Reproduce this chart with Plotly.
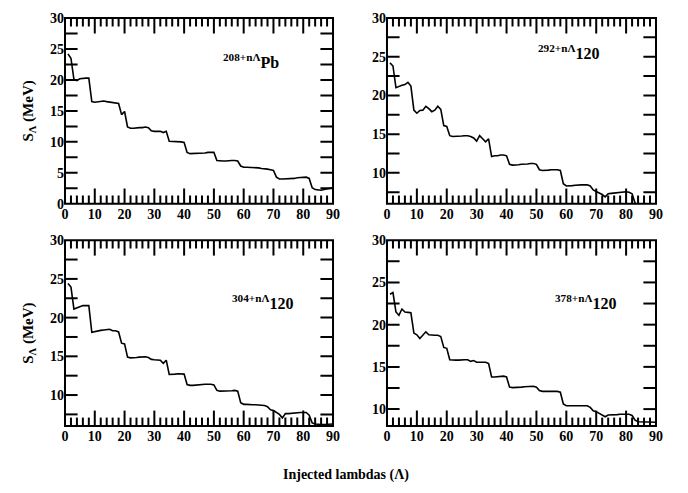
import plotly.graph_objects as go

n_lambda = list(range(1, 91))

s_pb208 = [24.2, 23.5, 20.1, 19.9, 20.2, 20.3, 20.3, 20.3, 16.5, 16.4,
           16.5, 16.5, 16.6, 16.5, 16.4, 16.3, 16.3, 16.2, 14.4, 14.9,
           12.4, 12.2, 12.2, 12.3, 12.3, 12.3, 12.4, 12.3, 11.8, 11.7,
           11.7, 11.7, 11.5, 11.7, 10.1, 10.1, 10.1, 10.0, 10.0, 9.9,
           8.3, 8.1, 8.1, 8.1, 8.2, 8.2, 8.2, 8.3, 8.3, 8.3,
           7.0, 6.9, 6.9, 6.9, 7.0, 7.0, 7.0, 6.9, 6.1, 5.9,
           5.9, 5.9, 5.9, 5.9, 5.8, 5.7, 5.7, 5.6, 5.5, 5.4,
           4.3, 4.0, 4.0, 4.0, 4.0, 4.1, 4.1, 4.2, 4.2, 4.3,
           4.3, 4.1, 2.6, 2.3, 2.2, 2.2, 2.3, 2.4, 2.5, 2.6]

s_120_292 = [24.2, 23.8, 21.0, 21.2, 21.3, 21.4, 21.7, 21.2, 18.1, 17.7,
             18.05, 18.1, 18.6, 18.3, 17.9, 18.1, 18.6, 18.2, 16.1, 16.0,
             14.8, 14.7, 14.7, 14.75, 14.75, 14.8, 14.8, 14.7, 14.5, 14.1,
             14.8, 14.4, 14.0, 14.4, 12.1, 12.2, 12.2, 12.3, 12.3, 12.2,
             11.1, 11.0, 11.0, 11.05, 11.1, 11.1, 11.15, 11.2, 11.2, 11.1,
             10.4, 10.3, 10.3, 10.35, 10.4, 10.4, 10.4, 10.3, 8.6, 8.3,
             8.3, 8.35, 8.4, 8.45, 8.45, 8.45, 8.45, 8.3, 7.8, 7.6,
             7.45, 7.2, 6.9, 7.3, 7.35, 7.4, 7.45, 7.5, 7.5, 7.55,
             7.5, 7.3, 6.1, 5.7, 5.6, 5.6, 5.6, 5.65, 5.7, 5.75]

s_120_304 = [24.4, 23.95, 21.1, 21.25, 21.5, 21.55, 21.55, 21.55, 18.1, 18.2,
             18.3, 18.35, 18.4, 18.45, 18.5, 18.3, 18.3, 18.15, 16.7, 16.6,
             14.9, 14.8, 14.8, 14.85, 14.9, 14.9, 14.95, 14.85, 14.6, 14.55,
             14.55, 14.5, 14.1, 14.5, 12.65, 12.65, 12.7, 12.75, 12.75, 12.7,
             11.35, 11.25, 11.25, 11.3, 11.35, 11.35, 11.4, 11.4, 11.4, 11.3,
             10.6, 10.5, 10.5, 10.5, 10.55, 10.55, 10.6, 10.5, 9.0, 8.8,
             8.8, 8.75, 8.75, 8.75, 8.7, 8.7, 8.65, 8.5, 8.1, 8.0,
             7.7, 7.5, 7.05, 7.6, 7.6, 7.65, 7.7, 7.7, 7.75, 7.75,
             7.75, 7.4, 6.4, 6.25, 6.2, 6.2, 6.2, 6.2, 6.2, 6.25]

s_120_378 = [23.6, 23.8, 21.5, 21.1, 21.85, 21.5, 21.45, 21.4, 19.0, 18.8,
             18.35, 18.7, 19.15, 18.8, 18.75, 18.75, 18.75, 18.6, 17.3, 17.2,
             15.85, 15.8, 15.8, 15.8, 15.85, 15.85, 15.85, 15.65, 15.75, 15.55,
             15.55, 15.55, 15.55, 15.4, 13.8, 13.8, 13.85, 13.9, 13.9, 13.8,
             12.6, 12.55, 12.55, 12.6, 12.6, 12.65, 12.65, 12.7, 12.7, 12.6,
             12.2, 12.1, 12.1, 12.1, 12.1, 12.1, 12.1, 12.0, 10.6, 10.4,
             10.4, 10.4, 10.4, 10.4, 10.4, 10.4, 10.4, 10.2, 9.8, 9.7,
             9.5, 9.3, 9.1, 9.3, 9.3, 9.35, 9.35, 9.4, 9.4, 9.4,
             9.4, 9.25, 8.7, 8.5, 8.5, 8.45, 8.45, 8.45, 8.45, 8.45]

labels = ["<sup>208+nΛ</sup>Pb", "<sup>292+nΛ</sup>120",
          "<sup>304+nΛ</sup>120", "<sup>378+nΛ</sup>120"]
series = [s_pb208, s_120_292, s_120_304, s_120_378]
y_ranges = [[0, 30], [6, 30], [6, 30], [8, 30]]

x_major_ticks = [0, 10, 20, 30, 40, 50, 60, 70, 80, 90]
x_minor_ticks = [v for v in range(2, 90, 2) if v % 10 != 0]
y_all_ticks = [0, 2.5, 5, 7.5, 10, 12.5, 15, 17.5, 20, 22.5, 25, 27.5, 30]

FONT = "Liberation Serif"
W, H = 688, 493
M = dict(l=65, r=32, t=11, b=67)
x_dom = [[0, 0.4535], [0.5448, 1.0], [0, 0.4535], [0.5448, 1.0]]
y_dom = [[0.5446, 1.0], [0.5446, 1.0], [0, 0.4554], [0, 0.4554]]
label_pos = [(52.5, 23.0), (50.0, 25.6), (55.5, 22.0), (55.5, 22.7)]
X_MAJOR_LEN, X_MINOR_LEN, Y_LEN = 11, 6, 9   # tick lengths in pixels

fig = go.Figure()
layout = dict(
    width=W, height=H, margin=M,
    paper_bgcolor="white", plot_bgcolor="white",
    showlegend=False,
    font=dict(family=FONT, color="black"),
    annotations=[], shapes=[],
)

TICK_MARK = dict(color="black", line=dict(color="black", width=2))

for i in range(4):
    sfx = "" if i == 0 else str(i + 1)
    xr, yr = "x" + sfx, "y" + sfx
    x0r, x1r = 0, 90
    y0r, y1r = y_ranges[i]
    y_in = [v for v in y_all_ticks if y0r < v < y1r]

    # ticks as line-symbol markers centred on the frame; the outer half is
    # clipped by the plot area, so only the inside half shows
    for vals, ln in [(x_major_ticks, X_MAJOR_LEN), (x_minor_ticks, X_MINOR_LEN)]:
        fig.add_trace(go.Scatter(
            x=vals + vals, y=[y0r] * len(vals) + [y1r] * len(vals),
            mode="markers", cliponaxis=True,
            marker=dict(symbol="line-ns-open", size=2 * ln, **TICK_MARK),
            xaxis=xr, yaxis=yr, hoverinfo="skip",
        ))
    fig.add_trace(go.Scatter(
        x=[x0r] * len(y_in) + [x1r] * len(y_in), y=y_in + y_in,
        mode="markers", cliponaxis=True,
        marker=dict(symbol="line-ew-open", size=2 * Y_LEN, **TICK_MARK),
        xaxis=xr, yaxis=yr, hoverinfo="skip",
    ))

    fig.add_trace(go.Scatter(
        x=n_lambda, y=series[i], mode="lines",
        line=dict(color="black", width=1.6),
        xaxis=xr, yaxis=yr, hoverinfo="skip",
    ))

    layout["xaxis" + sfx] = dict(
        domain=x_dom[i], range=[x0r, x1r], anchor=yr,
        tickmode="array", tickvals=x_major_ticks,
        ticks="", showline=False, showgrid=False, zeroline=False,
        tickfont=dict(family=FONT, size=14, weight="bold", color="black"),
    )
    layout["yaxis" + sfx] = dict(
        domain=y_dom[i], range=[y0r, y1r], anchor=xr,
        tickmode="linear", tick0=0, dtick=5,
        ticks="", showline=False, showgrid=False, zeroline=False,
        tickfont=dict(family=FONT, size=14, weight="bold", color="black"),
    )
    if i in (0, 2):
        layout["yaxis" + sfx]["title"] = dict(
            text="S<sub>Λ</sub> (MeV)", standoff=12,
            font=dict(family=FONT, size=15, weight="bold", color="black"))

    layout["shapes"].append(dict(
        type="rect", xref=xr + " domain", yref=yr + " domain",
        x0=0, x1=1, y0=0, y1=1,
        line=dict(color="black", width=2), layer="above"))

    layout["annotations"].append(dict(
        xref=xr, yref=yr,
        x=label_pos[i][0], y=label_pos[i][1],
        xanchor="left", yanchor="middle", showarrow=False,
        text=labels[i],
        font=dict(family=FONT, size=16, weight="bold", color="black"),
    ))

layout["annotations"].append(dict(
    xref="paper", yref="paper", x=0.475, y=-0.12,
    xanchor="center", yanchor="middle", showarrow=False,
    text="Injected lambdas (Λ)",
    font=dict(family=FONT, size=14, weight="bold", color="black"),
))

fig.update_layout(**layout)
fig.write_html("out.html")
